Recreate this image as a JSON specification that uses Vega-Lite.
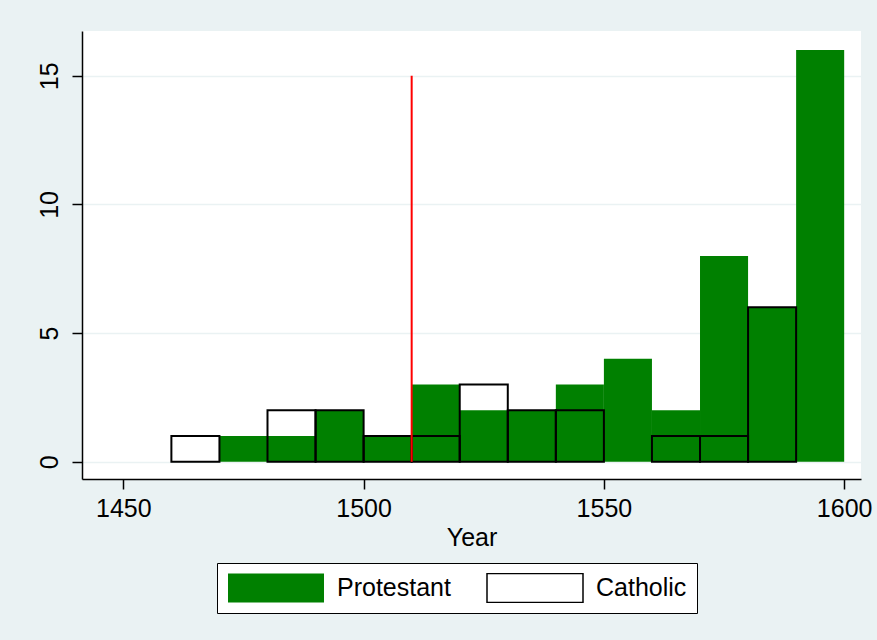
{
  "$schema": "https://vega.github.io/schema/vega-lite/v6.json",
  "width": 779,
  "height": 448,
  "autosize": {"type": "none"},
  "padding": {"left": 82, "top": 31, "right": 16, "bottom": 161},
  "background": "#EAF2F3",
  "config": {
    "view": {"fill": "white", "stroke": null},
    "font": "Liberation Sans",
    "axis": {
      "domainColor": "black",
      "domainWidth": 1.5,
      "tickColor": "black",
      "tickWidth": 1.5,
      "tickSize": 10,
      "labelFontSize": 25,
      "labelColor": "black",
      "titleFontSize": 25,
      "titleFontWeight": "normal",
      "titleColor": "black",
      "gridColor": "#EAF2F3",
      "gridWidth": 1.5
    },
    "legend": {
      "orient": "none",
      "legendX": 135,
      "legendY": 532,
      "direction": "horizontal",
      "symbolType": "M-1,-0.3H1V0.3H-1Z",
      "symbolSize": 9216,
      "symbolStrokeWidth": 1.5,
      "clipHeight": 30,
      "labelOffset": 12,
      "labelFontSize": 25,
      "labelColor": "black",
      "columnPadding": 35,
      "padding": 10,
      "strokeColor": "black",
      "fillColor": "white"
    }
  },
  "datasets": {
    "bins": [
      {"religion": "Protestant", "start": 1470, "end": 1480, "count": 1},
      {"religion": "Protestant", "start": 1480, "end": 1490, "count": 1},
      {"religion": "Protestant", "start": 1490, "end": 1500, "count": 2},
      {"religion": "Protestant", "start": 1500, "end": 1510, "count": 1},
      {"religion": "Protestant", "start": 1510, "end": 1520, "count": 3},
      {"religion": "Protestant", "start": 1520, "end": 1530, "count": 2},
      {"religion": "Protestant", "start": 1530, "end": 1540, "count": 2},
      {"religion": "Protestant", "start": 1540, "end": 1550, "count": 3},
      {"religion": "Protestant", "start": 1550, "end": 1560, "count": 4},
      {"religion": "Protestant", "start": 1560, "end": 1570, "count": 2},
      {"religion": "Protestant", "start": 1570, "end": 1580, "count": 8},
      {"religion": "Protestant", "start": 1580, "end": 1590, "count": 6},
      {"religion": "Protestant", "start": 1590, "end": 1600, "count": 16},
      {"religion": "Catholic", "start": 1460, "end": 1470, "count": 1},
      {"religion": "Catholic", "start": 1480, "end": 1490, "count": 2},
      {"religion": "Catholic", "start": 1490, "end": 1500, "count": 2},
      {"religion": "Catholic", "start": 1500, "end": 1510, "count": 1},
      {"religion": "Catholic", "start": 1510, "end": 1520, "count": 1},
      {"religion": "Catholic", "start": 1520, "end": 1530, "count": 3},
      {"religion": "Catholic", "start": 1530, "end": 1540, "count": 2},
      {"religion": "Catholic", "start": 1540, "end": 1550, "count": 2},
      {"religion": "Catholic", "start": 1560, "end": 1570, "count": 1},
      {"religion": "Catholic", "start": 1570, "end": 1580, "count": 1},
      {"religion": "Catholic", "start": 1580, "end": 1590, "count": 6}
    ],
    "marker": [
      {"year": 1510, "top": 15}
    ]
  },
  "layer": [
    {
      "data": {"name": "bins"},
      "mark": {"type": "bar", "strokeWidth": 2},
      "encoding": {
        "x": {
          "field": "start",
          "type": "quantitative",
          "scale": {"domain": [1441.4, 1603.5], "nice": false, "zero": false},
          "axis": {"title": "Year", "values": [1450, 1500, 1550, 1600], "format": "d", "grid": false, "labelPadding": 7, "titlePadding": 4}
        },
        "x2": {"field": "end"},
        "y": {
          "field": "count",
          "type": "quantitative",
          "stack": null,
          "scale": {"domain": [-0.67, 16.74], "nice": false, "zero": false},
          "axis": {"title": null, "values": [0, 5, 10, 15], "grid": true, "labelAngle": 270, "labelPadding": 10}
        },
        "y2": {"datum": 0},
        "fill": {
          "field": "religion",
          "type": "nominal",
          "scale": {"domain": ["Protestant", "Catholic"], "range": ["#008000", "transparent"]},
          "legend": {"title": null}
        },
        "stroke": {
          "field": "religion",
          "type": "nominal",
          "scale": {"domain": ["Protestant", "Catholic"], "range": ["transparent", "#000000"]},
          "legend": {"title": null}
        }
      }
    },
    {
      "data": {"name": "marker"},
      "mark": {"type": "rule", "color": "red", "strokeWidth": 2},
      "encoding": {
        "x": {"field": "year", "type": "quantitative"},
        "y": {"field": "top", "type": "quantitative"},
        "y2": {"datum": 0}
      }
    }
  ]
}
